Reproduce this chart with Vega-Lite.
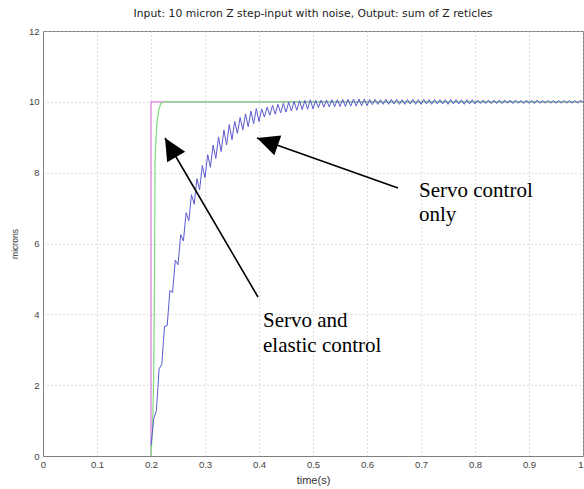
{
  "$schema": "https://vega.github.io/schema/vega-lite/v6.json",
  "width": 540,
  "height": 425,
  "autosize": {"type": "none"},
  "padding": {"left": 43, "top": 31, "right": 1, "bottom": 33},
  "background": "white",
  "config": {
    "view": {"stroke": "#808080", "strokeWidth": 1},
    "font": "Liberation Sans"
  },
  "title": {
    "text": "Input: 10 micron Z step-input with noise, Output: sum of Z reticles",
    "fontSize": 10.8,
    "fontWeight": "normal",
    "font": "DejaVu Sans",
    "color": "#222222",
    "offset": 7
  },
  "datasets": {
    "mag": [{"t": 0.2, "v": 0}, {"t": 0.2, "v": 10}, {"t": 1.0, "v": 10}],
    "green": [{"t": 0.2, "v": 0}, {"t": 0.203, "v": 0.8}, {"t": 0.205, "v": 2.3}, {"t": 0.2065, "v": 5}, {"t": 0.2075, "v": 8.3}, {"t": 0.209, "v": 8.9}, {"t": 0.211, "v": 9.4}, {"t": 0.214, "v": 9.75}, {"t": 0.218, "v": 9.95}, {"t": 0.224, "v": 10}, {"t": 1.0, "v": 10}],
    "blue": [
      {"t": 0.2, "v": 0.3}, {"t": 0.205, "v": 1.05}, {"t": 0.21, "v": 1.28}, {"t": 0.215, "v": 2.46}, {"t": 0.22, "v": 2.59}, {"t": 0.225, "v": 3.66}, {"t": 0.23, "v": 3.68}, {"t": 0.235, "v": 4.67}, {"t": 0.24, "v": 4.62}, {"t": 0.245, "v": 5.53},
      {"t": 0.25, "v": 5.4}, {"t": 0.255, "v": 6.25}, {"t": 0.26, "v": 6.07}, {"t": 0.265, "v": 6.87}, {"t": 0.27, "v": 6.64}, {"t": 0.275, "v": 7.38}, {"t": 0.28, "v": 7.11}, {"t": 0.285, "v": 7.83}, {"t": 0.29, "v": 7.52}, {"t": 0.295, "v": 8.2},
      {"t": 0.3, "v": 7.86}, {"t": 0.305, "v": 8.51}, {"t": 0.31, "v": 8.15}, {"t": 0.315, "v": 8.78}, {"t": 0.32, "v": 8.4}, {"t": 0.325, "v": 9.01}, {"t": 0.33, "v": 8.6}, {"t": 0.335, "v": 9.2}, {"t": 0.34, "v": 8.78}, {"t": 0.345, "v": 9.36},
      {"t": 0.35, "v": 8.93}, {"t": 0.355, "v": 9.45}, {"t": 0.36, "v": 9.11}, {"t": 0.365, "v": 9.56}, {"t": 0.37, "v": 9.21}, {"t": 0.375, "v": 9.66}, {"t": 0.38, "v": 9.3}, {"t": 0.385, "v": 9.74}, {"t": 0.39, "v": 9.38}, {"t": 0.395, "v": 9.81},
      {"t": 0.4, "v": 9.44}, {"t": 0.405, "v": 9.8}, {"t": 0.41, "v": 9.57}, {"t": 0.415, "v": 9.85}, {"t": 0.42, "v": 9.62}, {"t": 0.425, "v": 9.9}, {"t": 0.43, "v": 9.65}, {"t": 0.435, "v": 9.93}, {"t": 0.44, "v": 9.69}, {"t": 0.445, "v": 9.96},
      {"t": 0.45, "v": 9.71}, {"t": 0.455, "v": 9.99}, {"t": 0.46, "v": 9.74}, {"t": 0.465, "v": 10.01}, {"t": 0.47, "v": 9.76}, {"t": 0.475, "v": 10.03}, {"t": 0.48, "v": 9.78}, {"t": 0.485, "v": 10.04}, {"t": 0.49, "v": 9.79}, {"t": 0.495, "v": 10.06},
      {"t": 0.5, "v": 9.8}, {"t": 0.505, "v": 10.04}, {"t": 0.51, "v": 9.84}, {"t": 0.515, "v": 10.05}, {"t": 0.52, "v": 9.85}, {"t": 0.525, "v": 10.05}, {"t": 0.53, "v": 9.86}, {"t": 0.535, "v": 10.06}, {"t": 0.54, "v": 9.86}, {"t": 0.545, "v": 10.06},
      {"t": 0.55, "v": 9.87}, {"t": 0.555, "v": 10.07}, {"t": 0.56, "v": 9.87}, {"t": 0.565, "v": 10.07}, {"t": 0.57, "v": 9.88}, {"t": 0.575, "v": 10.08}, {"t": 0.58, "v": 9.88}, {"t": 0.585, "v": 10.08}, {"t": 0.59, "v": 9.89}, {"t": 0.595, "v": 10.08},
      {"t": 0.6, "v": 9.89}, {"t": 0.605, "v": 10.07}, {"t": 0.61, "v": 9.92}, {"t": 0.615, "v": 10.07}, {"t": 0.62, "v": 9.93}, {"t": 0.625, "v": 10.06}, {"t": 0.63, "v": 9.93}, {"t": 0.635, "v": 10.07}, {"t": 0.64, "v": 9.93}, {"t": 0.645, "v": 10.07},
      {"t": 0.65, "v": 9.94}, {"t": 0.655, "v": 10.07}, {"t": 0.66, "v": 9.93}, {"t": 0.665, "v": 10.06}, {"t": 0.67, "v": 9.93}, {"t": 0.675, "v": 10.07}, {"t": 0.68, "v": 9.94}, {"t": 0.685, "v": 10.07}, {"t": 0.69, "v": 9.93}, {"t": 0.695, "v": 10.06},
      {"t": 0.7, "v": 9.93}, {"t": 0.705, "v": 10.07}, {"t": 0.71, "v": 9.94}, {"t": 0.715, "v": 10.06}, {"t": 0.72, "v": 9.93}, {"t": 0.725, "v": 10.07}, {"t": 0.73, "v": 9.94}, {"t": 0.735, "v": 10.06}, {"t": 0.74, "v": 9.94}, {"t": 0.745, "v": 10.06},
      {"t": 0.75, "v": 9.93}, {"t": 0.755, "v": 10.07}, {"t": 0.76, "v": 9.94}, {"t": 0.765, "v": 10.06}, {"t": 0.77, "v": 9.94}, {"t": 0.775, "v": 10.06}, {"t": 0.78, "v": 9.93}, {"t": 0.785, "v": 10.06}, {"t": 0.79, "v": 9.94}, {"t": 0.795, "v": 10.06},
      {"t": 0.8, "v": 9.94}, {"t": 0.805, "v": 10.05}, {"t": 0.81, "v": 9.95}, {"t": 0.815, "v": 10.05}, {"t": 0.82, "v": 9.95}, {"t": 0.825, "v": 10.05}, {"t": 0.83, "v": 9.95}, {"t": 0.835, "v": 10.05}, {"t": 0.84, "v": 9.95}, {"t": 0.845, "v": 10.05},
      {"t": 0.85, "v": 9.95}, {"t": 0.855, "v": 10.05}, {"t": 0.86, "v": 9.96}, {"t": 0.865, "v": 10.05}, {"t": 0.87, "v": 9.95}, {"t": 0.875, "v": 10.05}, {"t": 0.88, "v": 9.96}, {"t": 0.885, "v": 10.04}, {"t": 0.89, "v": 9.95}, {"t": 0.895, "v": 10.05},
      {"t": 0.9, "v": 9.96}, {"t": 0.905, "v": 10.04}, {"t": 0.91, "v": 9.95}, {"t": 0.915, "v": 10.05}, {"t": 0.92, "v": 9.96}, {"t": 0.925, "v": 10.04}, {"t": 0.93, "v": 9.96}, {"t": 0.935, "v": 10.04}, {"t": 0.94, "v": 9.96}, {"t": 0.945, "v": 10.04},
      {"t": 0.95, "v": 9.96}, {"t": 0.955, "v": 10.04}, {"t": 0.96, "v": 9.96}, {"t": 0.965, "v": 10.04}, {"t": 0.97, "v": 9.96}, {"t": 0.975, "v": 10.04}, {"t": 0.98, "v": 9.96}, {"t": 0.985, "v": 10.04}, {"t": 0.99, "v": 9.96}, {"t": 0.995, "v": 10.04}, {"t": 1.0, "v": 10.0}
    ],
    "arrows": [
      {"id": "a1", "tx": 0.3981, "tv": 4.489, "hx": 0.2259, "hv": 8.979},
      {"id": "a2", "tx": 0.6574, "tv": 7.567, "hx": 0.3963, "hv": 8.979}
    ],
    "head1": [{"x": 0.2363, "v": 8.711}],
    "head2": [{"x": 0.4156, "v": 8.874}],
    "lab1": [{"x": 0.4074, "v": 3.642, "label": "Servo and\nelastic control"}],
    "lab2": [{"x": 0.6963, "v": 7.313, "label": "Servo control\nonly"}]
  },
  "layer": [
    {
      "data": {"name": "mag"},
      "mark": {"type": "line", "color": "#e07de0", "strokeWidth": 1.2, "clip": true},
      "encoding": {
        "x": {
          "field": "t", "type": "quantitative",
          "scale": {"domain": [0, 1], "nice": false, "zero": false},
          "axis": {
            "values": [0, 0.1, 0.2, 0.3, 0.4, 0.5, 0.6, 0.7, 0.8, 0.9, 1],
            "format": "~g",
            "title": "time(s)",
            "titleFont": "Liberation Sans", "titleFontSize": 11, "titleFontWeight": "normal", "titleColor": "#333333", "titlePadding": 6,
            "labelFont": "Liberation Sans", "labelFontSize": 9.5, "labelColor": "#444444", "labelPadding": 3,
            "labelAlign": {"condition": {"test": "datum.value >= 1", "value": "right"}, "value": "center"},
            "domainColor": "#808080", "ticks": false,
            "grid": true, "gridColor": "#bbbbbb", "gridDash": [1, 3], "gridWidth": 1,
            "labelFlush": false
          }
        },
        "y": {
          "field": "v", "type": "quantitative",
          "scale": {"domain": [0, 12], "nice": false},
          "axis": {
            "values": [0, 2, 4, 6, 8, 10, 12],
            "title": "microns",
            "titleFont": "Liberation Sans", "titleFontSize": 8.5, "titleFontWeight": "normal", "titleColor": "#333333", "titlePadding": 9,
            "labelFont": "Liberation Sans", "labelFontSize": 9.5, "labelColor": "#444444", "labelPadding": 4,
            "domainColor": "#808080", "ticks": false,
            "grid": true, "gridColor": "#bbbbbb", "gridDash": [1, 3], "gridWidth": 1,
            "labelFlush": false
          }
        },
        "order": {"field": "t", "type": "quantitative"}
      }
    },
    {
      "data": {"name": "green"},
      "mark": {"type": "line", "color": "#7ddc7d", "strokeWidth": 1.2, "clip": true},
      "encoding": {
        "x": {"field": "t", "type": "quantitative"},
        "y": {"field": "v", "type": "quantitative"}
      }
    },
    {
      "data": {"name": "blue"},
      "mark": {"type": "line", "color": "#5a5ad2", "strokeWidth": 1, "clip": true},
      "encoding": {
        "x": {"field": "t", "type": "quantitative"},
        "y": {"field": "v", "type": "quantitative"}
      }
    },
    {
      "data": {"name": "arrows"},
      "mark": {"type": "rule", "color": "black", "strokeWidth": 1.6},
      "encoding": {
        "x": {"field": "tx", "type": "quantitative"},
        "y": {"field": "tv", "type": "quantitative"},
        "x2": {"field": "hx"},
        "y2": {"field": "hv"}
      }
    },
    {
      "data": {"name": "head1"},
      "mark": {"type": "point", "shape": "M0,-1L-0.95,1L0.95,1Z", "filled": true, "color": "black", "opacity": 1, "size": 484, "angle": 329.7},
      "encoding": {
        "x": {"field": "x", "type": "quantitative"},
        "y": {"field": "v", "type": "quantitative"}
      }
    },
    {
      "data": {"name": "head2"},
      "mark": {"type": "point", "shape": "M0,-1L-0.95,1L0.95,1Z", "filled": true, "color": "black", "opacity": 1, "size": 484, "angle": 289.5},
      "encoding": {
        "x": {"field": "x", "type": "quantitative"},
        "y": {"field": "v", "type": "quantitative"}
      }
    },
    {
      "data": {"name": "lab1"},
      "mark": {"type": "text", "font": "Liberation Serif", "fontSize": 21, "align": "left", "baseline": "alphabetic", "lineBreak": "\n", "lineHeight": 25, "color": "black"},
      "encoding": {
        "x": {"field": "x", "type": "quantitative"},
        "y": {"field": "v", "type": "quantitative"},
        "text": {"field": "label"}
      }
    },
    {
      "data": {"name": "lab2"},
      "mark": {"type": "text", "font": "Liberation Serif", "fontSize": 21, "align": "left", "baseline": "alphabetic", "lineBreak": "\n", "lineHeight": 24, "color": "black"},
      "encoding": {
        "x": {"field": "x", "type": "quantitative"},
        "y": {"field": "v", "type": "quantitative"},
        "text": {"field": "label"}
      }
    }
  ]
}
